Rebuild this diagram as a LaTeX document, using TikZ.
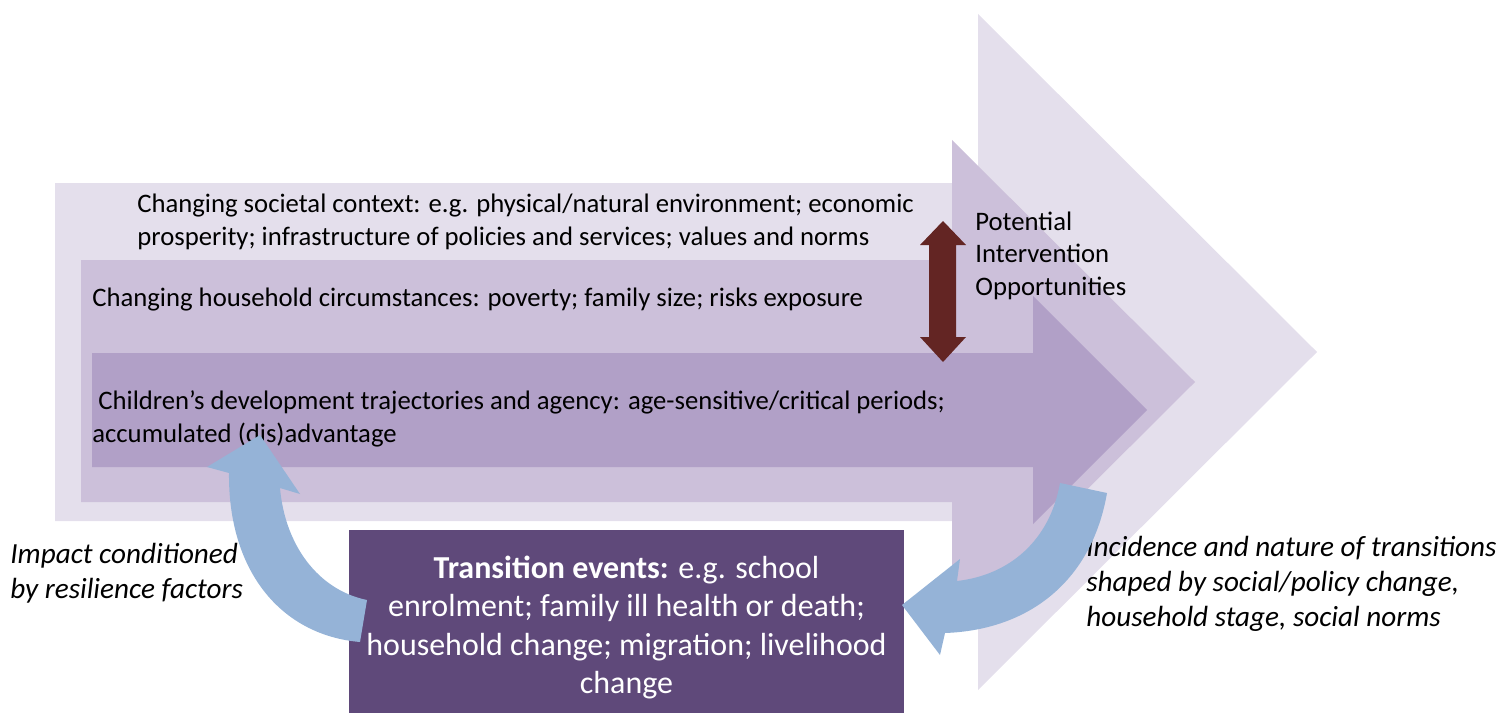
\documentclass[tikz,border=0pt]{standalone}
\usepackage{fontspec}
\setmainfont{Carlito}
\usepackage{xcolor}
\usepackage{tikz}
\usetikzlibrary{positioning}

\definecolor{lilacA}{HTML}{E4DFEC}
\definecolor{lilacB}{HTML}{CCC0DA}
\definecolor{lilacC}{HTML}{B1A0C7}
\definecolor{eventpurple}{HTML}{5F497A}
\definecolor{loopblue}{HTML}{95B3D7}
\definecolor{oxblood}{HTML}{632523}

\tikzset{
  bandtext/.style={anchor=base west,align=left,inner sep=0pt,
    font=\fontsize{15.2}{18.3}\selectfont},
  sidetext/.style={anchor=base west,align=left,inner sep=0pt,
    font=\fontsize{16.6}{19.8}\selectfont\itshape},
  eventbox/.style={fill=eventpurple,inner sep=0pt,
    minimum width=11.1cm,minimum height=3.66cm},
  eventtext/.style={text=white,align=center,inner sep=0pt,
    font=\fontsize{18.2}{21.8}\selectfont}
}

\begin{document}
\begin{tikzpicture}[x=0.02cm,y=-0.02cm]
      \useasboundingbox (0,0) rectangle (1501,713);
      % the three nested block arrows
      \foreach \l/\t/\b/\k/\ht/\hb/\tx/\c in
          {55/183/521/978/14/690/1317/lilacA,
           81/260/502/952/140/624/1195/lilacB,
           92/353/467/1033/296/524/1147/lilacC}
      \fill[\c] (\l,\t) -- (\k,\t) -- (\k,\ht) -- (\tx,{(\ht+\hb)/2})
            -- (\k,\hb) -- (\k,\b) -- (\l,\b) -- cycle;
      % intervention arrow
      \fill[oxblood] (943,221) -- (966,245) -- (956,245) -- (956,337)
            -- (966,337) -- (943,362) -- (920,337) -- (929,337)
            -- (929,245) -- (920,245) -- cycle;

      % base of a multi-line node = baseline of its last line
      \node[bandtext] (context) at (137,245)
            {Changing societal context: e.g. physical/natural environment; economic\\
             prosperity; infrastructure of policies and services; values and norms};
      \node[bandtext] (household) at (92,306)
            {Changing household circumstances: poverty; family size; risks exposure};
      \node[bandtext] (children) at (92,442)
            {\ Children’s development trajectories and agency: age-sensitive/critical periods;\\
             accumulated (dis)advantage};
      \node[bandtext] (potential) at (975,295)
            {Potential\\ Intervention\\ Opportunities};
      \node[sidetext] (impact) at (10,598)
            {Impact conditioned\\ by resilience factors};
      \node[sidetext] (incidence) at (1086,626)
            {Incidence and nature of transitions\\ shaped by social/policy change,\\
             household stage, social norms};

      \node[eventbox] (events) at (626.5,621.5) {};
      \node[eventtext] (eventslabel) at ([yshift=-0.12cm]events.center)
            {\textbf{Transition events:} e.g. school\\
             enrolment; family ill health or death;\\
             household change; migration; livelihood\\ change};

      % loop arrows
      \fill[loopblue] (360,642) .. controls (280,635) and (228,570) .. (229,473)
            -- (207,467) -- (260,435) -- (300,494) -- (280,488)
            .. controls (285,545) and (318,590) .. (367,600) -- cycle;
      \fill[loopblue] (1060,483) .. controls (1050,540) and (1010,575) .. (957,581)
            -- (960,559) -- (902,605) -- (940,655) -- (945,633)
            .. controls (1030,630) and (1092,580) .. (1107,493) -- cycle;
\end{tikzpicture}
\end{document}
